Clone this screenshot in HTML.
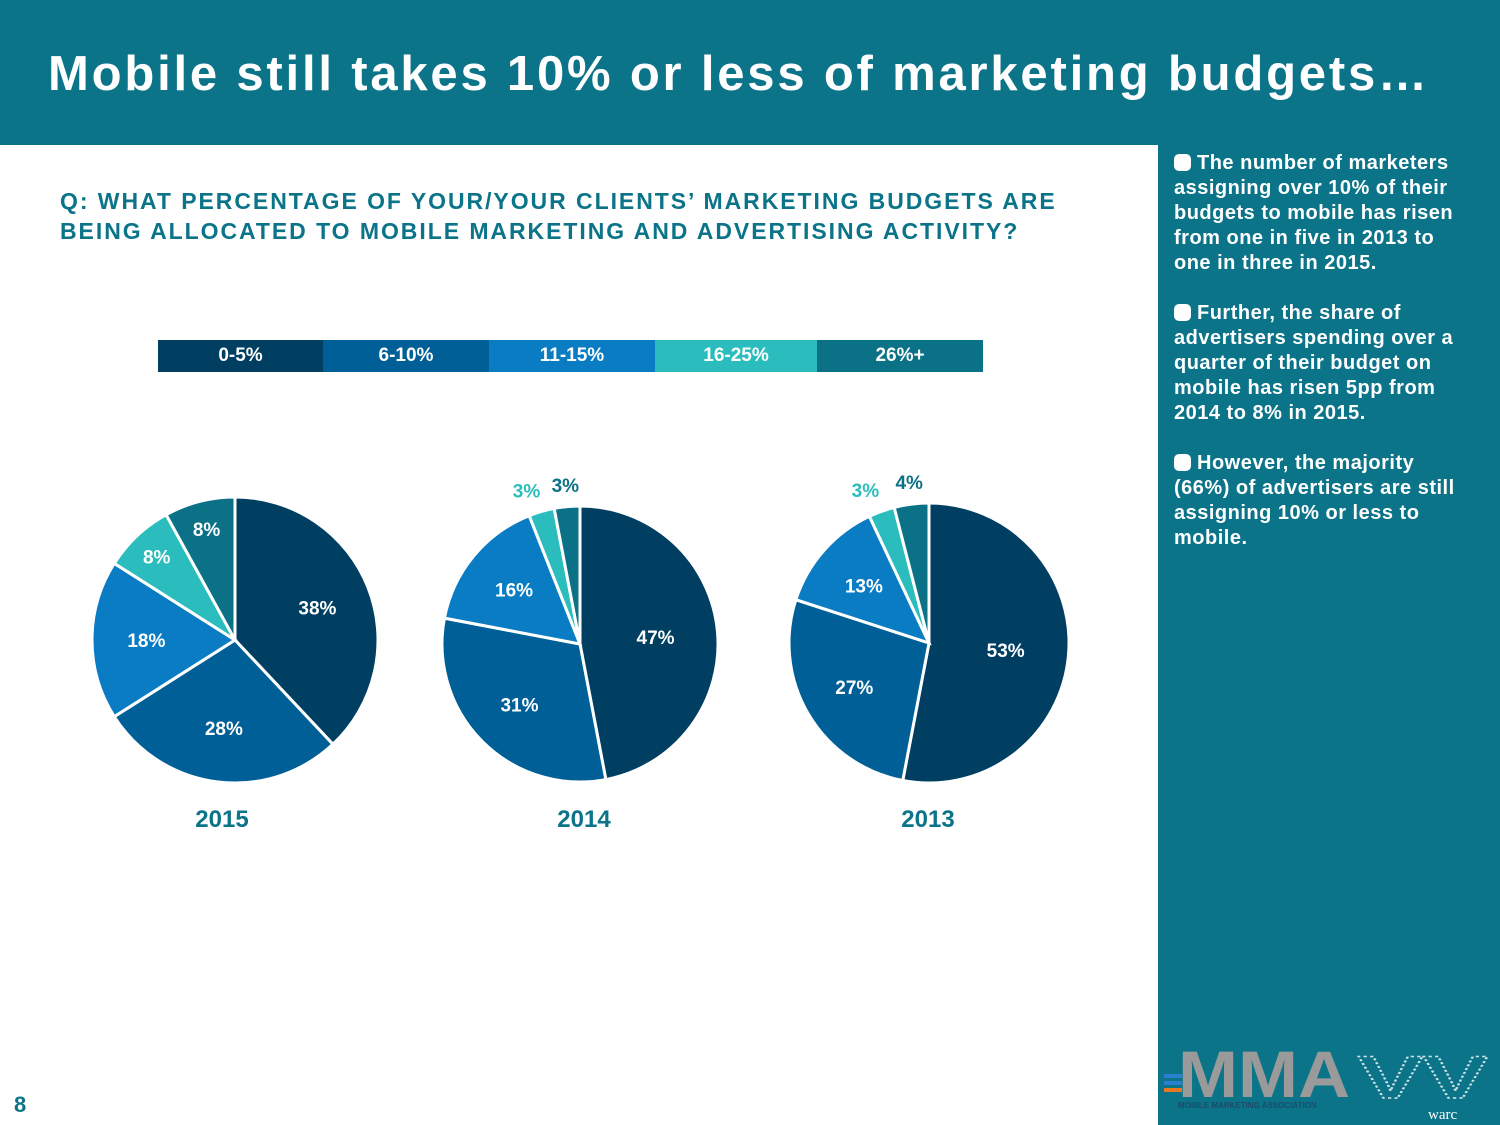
<!DOCTYPE html>
<html><head><meta charset="utf-8"><style>
body{margin:0;width:1500px;height:1125px;position:relative;background:#fff;font-family:"Liberation Sans",sans-serif;overflow:hidden}
.abs{position:absolute}
#hdr{left:0;top:0;width:1500px;height:145px;background:#0b7489}
#title{left:48px;top:46px;color:#fff;font-weight:bold;font-size:49px;white-space:nowrap;letter-spacing:2.8px}
#side{left:1158px;top:145px;width:342px;height:980px;background:#0b7489}
.bul{position:absolute;left:16px;width:330px;color:#fff;font-weight:bold;font-size:20px;line-height:25px;white-space:nowrap;letter-spacing:0.5px}
.dot{display:inline-block;width:17px;height:17px;border-radius:5px;background:#fff;vertical-align:-2px;margin-right:6px}
#q{left:60px;top:186px;color:#0b7489;font-weight:bold;font-size:23px;line-height:30px;letter-spacing:1.95px;white-space:nowrap}
#legend{left:158px;top:340px;height:32px;display:flex}
.leg{height:32px;color:#fff;font-weight:bold;font-size:19px;display:flex;align-items:center;justify-content:center}
#pg{left:14px;top:1092px;color:#0b7489;font-weight:bold;font-size:22px}
</style></head><body>
<div id="hdr" class="abs"></div>
<div id="title" class="abs">Mobile still takes 10% or less of marketing budgets…</div>
<div id="q" class="abs">Q: WHAT PERCENTAGE OF YOUR/YOUR CLIENTS’ MARKETING BUDGETS ARE<br>BEING ALLOCATED TO MOBILE MARKETING AND ADVERTISING ACTIVITY?</div>
<div id="legend" class="abs">
<div class="leg" style="width:165px;background:#003f62">0-5%</div>
<div class="leg" style="width:166px;background:#005f96">6-10%</div>
<div class="leg" style="width:166px;background:#0a7cc4">11-15%</div>
<div class="leg" style="width:162px;background:#2bbdbd">16-25%</div>
<div class="leg" style="width:166px;background:#0b7187">26%+</div>
</div>
<svg class="abs" style="left:0;top:0" width="1150" height="1125" id="charts"></svg>
<div id="side" class="abs">
<div class="bul" style="top:6px"><span class="dot"></span>The number of marketers<br>assigning over 10% of their<br>budgets to mobile has risen<br>from one in five in 2013 to<br>one in three in 2015.</div>
<div class="bul" style="top:156px"><span class="dot"></span>Further, the share of<br>advertisers spending over a<br>quarter of their budget on<br>mobile has risen 5pp from<br>2014 to 8% in 2015.</div>
<div class="bul" style="top:306px"><span class="dot"></span>However, the majority<br>(66%) of advertisers are still<br>assigning 10% or less to<br>mobile.</div>
<svg class="abs" style="left:0;top:895px" width="342" height="85">
<text x="20" y="57" font-size="66" font-weight="bold" fill="#9a9a9a" font-family="Liberation Sans" textLength="172" lengthAdjust="spacingAndGlyphs">MMA</text>
<rect x="6" y="34" width="18" height="4" fill="#2a7fd0"/><rect x="6" y="41" width="18" height="4" fill="#2a7fd0"/><rect x="6" y="48" width="18" height="4" fill="#e87722"/>
<text x="20" y="68" font-size="8" font-weight="bold" fill="#1d4a6a" font-family="Liberation Sans">MOBILE MARKETING ASSOCIATION</text>
<text x="200" y="58" font-size="60" font-weight="bold" fill="none" stroke="#cfe3e8" stroke-width="1.5" stroke-dasharray="2 2" font-family="Liberation Sans" textLength="130" lengthAdjust="spacingAndGlyphs">VV</text>
<text x="270" y="79" font-size="15" fill="#fff" font-family="Liberation Serif">warc</text>
</svg>
</div>
<div id="pg" class="abs">8</div>
<script>
const categories=["0-5%","6-10%","11-15%","16-25%","26%+"];
const years=["2015","2014","2013"];
const values2015=[38,28,18,8,8];
const values2014=[47,31,16,3,3];
const values2013=[53,27,13,3,4];
const colors=["#003f62","#005f96","#0a7cc4","#2bbdbd","#0b7187"];
const pies=[{cx:235,cy:640,r:143,v:values2015},{cx:580,cy:644,r:138,v:values2014},{cx:929,cy:643,r:140,v:values2013}];
const ns="http://www.w3.org/2000/svg";
const svg=document.getElementById('charts');
pies.forEach((p,pi)=>{
  const tot=p.v.reduce((a,b)=>a+b,0);
  let a=0;
  const pt=(ang,rr)=>[p.cx+rr*Math.sin(ang),p.cy-rr*Math.cos(ang)];
  p.v.forEach((val,i)=>{
    const a0=a/tot*2*Math.PI;a+=val;const a1=a/tot*2*Math.PI;
    const [x0,y0]=pt(a0,p.r),[x1,y1]=pt(a1,p.r);
    const path=document.createElementNS(ns,'path');
    path.setAttribute('d',`M${p.cx},${p.cy}L${x0},${y0}A${p.r},${p.r} 0 ${a1-a0>Math.PI?1:0} 1 ${x1},${y1}Z`);
    path.setAttribute('fill',colors[i]);path.setAttribute('stroke','#fff');path.setAttribute('stroke-width','3');
    
    
    svg.appendChild(path);
    const mid=(a0+a1)/2;const small=val<5;
    const rf=small?1.13:val<10?0.8:val>40?0.55:0.62;
    const [lx,ly]=pt(mid,p.r*rf);
    const t=document.createElementNS(ns,'text');
    t.setAttribute('x',lx+(small&&i==3?-10:0));t.setAttribute('y',ly+7+(small?-4:0));
    t.setAttribute('text-anchor','middle');t.setAttribute('font-size','19');t.setAttribute('font-weight','bold');
    t.setAttribute('font-family','Liberation Sans');
    t.setAttribute('fill',small?(i==3?'#2bbdbd':'#0b7187'):'#fff');
    t.textContent=val+'%';
    
    
    svg.appendChild(t);
  });
  const y=document.createElementNS(ns,'text');
  y.setAttribute('x',[222,584,928][pi]);y.setAttribute('y',827);y.setAttribute('text-anchor','middle');
  y.setAttribute('font-size','24');y.setAttribute('font-weight','bold');y.setAttribute('fill','#0b7489');y.setAttribute('font-family','Liberation Sans');
  y.textContent=years[pi];
  
  
  svg.appendChild(y);
});
</script>
</body></html>
